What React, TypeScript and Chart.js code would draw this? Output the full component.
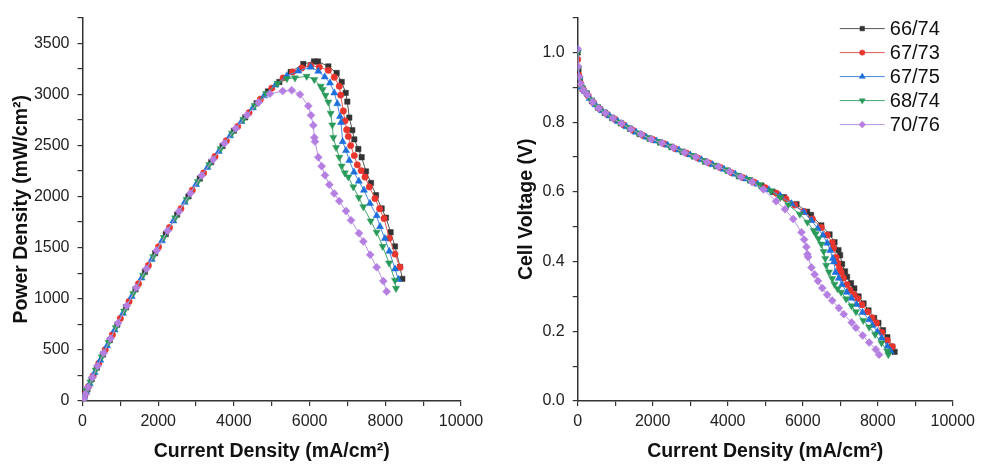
import React, { useEffect, useRef } from 'react';
import { Chart, registerables } from 'chart.js';
import { drawPoint } from 'chart.js/helpers';

Chart.register(...registerables);

// ---------- data ----------
const seriesNames = ['66/74', '67/73', '67/75', '68/74', '70/76'];

const current_66_74 = [0, 20, 60, 130, 240, 380, 540, 720, 920, 1150, 1400, 1650, 1920, 2200, 2500, 2800, 3100, 3400, 3700, 4000, 4300, 4600, 4900, 5200, 5500, 5834, 6116, 6222, 6495, 6715, 6848, 6953, 6997, 7049, 7128, 7181, 7287, 7375, 7490, 7622, 7754, 7904, 8018, 8140, 8256, 8388, 8450];
const voltage_66_74 = [1.00, 0.95, 0.92, 0.895, 0.882, 0.86, 0.842, 0.827, 0.812, 0.797, 0.781, 0.766, 0.753, 0.742, 0.729, 0.715, 0.702, 0.687, 0.674, 0.661, 0.645, 0.633, 0.618, 0.600, 0.585, 0.565, 0.543, 0.534, 0.504, 0.478, 0.456, 0.433, 0.418, 0.393, 0.372, 0.356, 0.338, 0.323, 0.300, 0.280, 0.260, 0.238, 0.224, 0.203, 0.183, 0.156, 0.141];
const power_66_74 = [0, 19, 55, 116, 212, 327, 455, 595, 747, 917, 1093, 1264, 1446, 1632, 1823, 2002, 2176, 2336, 2494, 2644, 2774, 2912, 3028, 3120, 3218, 3296, 3321, 3321, 3273, 3208, 3121, 3014, 2928, 2772, 2649, 2559, 2465, 2384, 2246, 2132, 2013, 1883, 1793, 1650, 1512, 1311, 1195];

const current_67_73 = [0, 30, 80, 160, 280, 430, 600, 790, 1000, 1230, 1480, 1740, 2010, 2300, 2600, 2900, 3200, 3500, 3800, 4100, 4400, 4700, 5000, 5300, 5550, 5791, 6030, 6257, 6495, 6653, 6785, 6820, 6891, 6935, 6980, 7023, 7086, 7180, 7261, 7364, 7464, 7578, 7728, 7850, 7966, 8106, 8256, 8388];
const voltage_67_73 = [0.98, 0.935, 0.91, 0.892, 0.876, 0.855, 0.837, 0.822, 0.808, 0.792, 0.776, 0.762, 0.750, 0.738, 0.724, 0.711, 0.697, 0.683, 0.670, 0.655, 0.641, 0.628, 0.612, 0.596, 0.580, 0.562, 0.544, 0.522, 0.498, 0.476, 0.454, 0.439, 0.412, 0.395, 0.380, 0.369, 0.353, 0.334, 0.318, 0.306, 0.294, 0.276, 0.256, 0.239, 0.224, 0.197, 0.174, 0.156];
const power_67_73 = [0, 28, 73, 143, 245, 368, 502, 649, 808, 974, 1148, 1326, 1508, 1697, 1882, 2062, 2230, 2391, 2546, 2686, 2820, 2952, 3060, 3159, 3219, 3257, 3280, 3266, 3234, 3166, 3079, 2992, 2837, 2740, 2653, 2588, 2498, 2400, 2310, 2253, 2191, 2094, 1980, 1880, 1786, 1593, 1437, 1308];

const current_67_75 = [0, 40, 100, 190, 320, 470, 650, 850, 1070, 1300, 1560, 1830, 2100, 2400, 2700, 3000, 3300, 3600, 3900, 4200, 4500, 4800, 5100, 5400, 5702, 6029, 6231, 6400, 6539, 6653, 6732, 6803, 6830, 6874, 6962, 7049, 7173, 7300, 7437, 7596, 7772, 7860, 7990, 8106, 8256, 8344];
const voltage_67_75 = [1.01, 0.93, 0.90, 0.888, 0.868, 0.850, 0.833, 0.818, 0.802, 0.787, 0.771, 0.757, 0.746, 0.734, 0.720, 0.706, 0.692, 0.678, 0.665, 0.651, 0.637, 0.622, 0.606, 0.589, 0.566, 0.542, 0.518, 0.495, 0.476, 0.453, 0.432, 0.409, 0.399, 0.369, 0.352, 0.334, 0.312, 0.295, 0.277, 0.254, 0.233, 0.217, 0.199, 0.181, 0.157, 0.143];
const power_67_75 = [0, 37, 90, 169, 278, 400, 541, 695, 858, 1023, 1203, 1385, 1567, 1762, 1944, 2118, 2284, 2441, 2594, 2734, 2867, 2986, 3091, 3181, 3227, 3266, 3225, 3170, 3111, 3014, 2908, 2782, 2724, 2537, 2450, 2352, 2239, 2150, 2062, 1932, 1813, 1706, 1590, 1464, 1292, 1190];

const current_68_74 = [0, 15, 50, 110, 210, 350, 510, 690, 880, 1100, 1340, 1600, 1870, 2150, 2450, 2750, 3050, 3350, 3650, 3950, 4250, 4550, 4850, 5150, 5400, 5614, 5923, 6125, 6293, 6346, 6420, 6495, 6557, 6600, 6627, 6700, 6785, 6847, 6930, 7023, 7155, 7300, 7419, 7614, 7772, 7931, 8100, 8256, 8283];
const voltage_68_74 = [1.00, 0.955, 0.925, 0.900, 0.885, 0.864, 0.845, 0.830, 0.815, 0.800, 0.785, 0.769, 0.755, 0.744, 0.731, 0.717, 0.704, 0.690, 0.676, 0.663, 0.648, 0.635, 0.620, 0.603, 0.584, 0.563, 0.536, 0.513, 0.489, 0.480, 0.466, 0.450, 0.429, 0.409, 0.389, 0.370, 0.351, 0.335, 0.322, 0.312, 0.293, 0.273, 0.256, 0.231, 0.212, 0.191, 0.167, 0.143, 0.133];
const power_68_74 = [0, 14, 46, 99, 186, 302, 431, 573, 717, 880, 1052, 1230, 1412, 1600, 1791, 1972, 2147, 2312, 2467, 2619, 2754, 2889, 3007, 3105, 3154, 3160, 3176, 3143, 3079, 3047, 2990, 2924, 2814, 2700, 2578, 2480, 2384, 2297, 2231, 2191, 2094, 1990, 1900, 1761, 1651, 1512, 1350, 1180, 1102];

const current_70_76 = [0, 10, 35, 75, 150, 260, 400, 560, 740, 940, 1170, 1420, 1690, 1960, 2250, 2550, 2850, 3150, 3450, 3750, 4050, 4350, 4650, 4950, 5289, 5527, 5746, 5966, 6037, 6098, 6125, 6143, 6231, 6319, 6407, 6522, 6650, 6785, 6962, 7094, 7305, 7419, 7600, 7772, 7948, 8036];
const voltage_70_76 = [1.01, 0.96, 0.93, 0.91, 0.892, 0.879, 0.858, 0.840, 0.826, 0.811, 0.796, 0.780, 0.765, 0.751, 0.740, 0.727, 0.713, 0.700, 0.685, 0.672, 0.658, 0.643, 0.628, 0.607, 0.573, 0.550, 0.522, 0.484, 0.463, 0.442, 0.421, 0.413, 0.383, 0.363, 0.344, 0.324, 0.305, 0.288, 0.267, 0.249, 0.225, 0.210, 0.188, 0.168, 0.148, 0.133];
const power_70_76 = [0, 10, 33, 68, 134, 229, 343, 470, 611, 762, 931, 1108, 1293, 1472, 1665, 1854, 2032, 2205, 2363, 2520, 2665, 2797, 2920, 3005, 3031, 3040, 2998, 2886, 2794, 2697, 2578, 2537, 2384, 2297, 2207, 2116, 2030, 1955, 1858, 1767, 1641, 1561, 1430, 1308, 1173, 1070];

const currents = [current_66_74, current_67_73, current_67_75, current_68_74, current_70_76];
const voltages = [voltage_66_74, voltage_67_73, voltage_67_75, voltage_68_74, voltage_70_76];
const powers = [power_66_74, power_67_73, power_67_75, power_68_74, power_70_76];

// ---------- style ----------
const FONT = '"Liberation Sans", Arial, Helvetica, sans-serif';
const styles = [
  { marker: '#333333', line: '#555555', pointStyle: 'rect', radius: 3.8, rotation: 0 },
  { marker: '#e8352e', line: '#e35a55', pointStyle: 'circle', radius: 3.2, rotation: 0 },
  { marker: '#1d6fdc', line: '#4a86e0', pointStyle: 'triangle', radius: 4.1, rotation: 0 },
  { marker: '#2a9a5a', line: '#46a472', pointStyle: 'triangle', radius: 4.1, rotation: 180 },
  { marker: '#b57fe2', line: '#b893e4', pointStyle: 'rectRot', radius: 4.0, rotation: 0 },
];

const legendPlugin = {
  id: 'lineLegend',
  afterDraw(chart: any) {
    const ctx = chart.ctx;
    const ca = chart.chartArea;
    const x1 = ca.right - 113;
    const x2 = ca.right - 68;
    const xm = (x1 + x2) / 2;
    ctx.save();
    seriesNames.forEach((name, i) => {
      const y = ca.top + 11 + i * 24;
      const st = styles[i];
      ctx.strokeStyle = st.line;
      ctx.lineWidth = 1;
      ctx.beginPath();
      ctx.moveTo(x1, y);
      ctx.lineTo(x2, y);
      ctx.stroke();
      ctx.fillStyle = st.marker;
      ctx.strokeStyle = st.marker;
      ctx.lineWidth = 0.5;
      drawPoint(ctx, { pointStyle: st.pointStyle, radius: st.radius * 0.85, rotation: st.rotation, borderWidth: 0.5 } as any, xm, y);
      ctx.fillStyle = '#111111';
      ctx.font = `20px ${FONT}`;
      ctx.textBaseline = 'middle';
      ctx.textAlign = 'left';
      ctx.fillText(name, x2 + 5, y + 1);
    });
    ctx.restore();
  },
};

function makeDatasets(kind: 'power' | 'voltage') {
  return seriesNames.map((name, i) => {
    const ys = kind === 'power' ? powers[i] : voltages[i];
    const st = styles[i];
    return {
      label: name,
      data: currents[i].map((x, j) => ({ x, y: ys[j] })),
      showLine: true,
      borderColor: st.line,
      borderWidth: 1,
      backgroundColor: st.marker,
      pointStyle: st.pointStyle,
      pointRadius: st.radius,
      pointRotation: st.rotation,
      pointBackgroundColor: st.marker,
      pointBorderColor: st.marker,
      pointBorderWidth: 0.5,
      tension: 0,
      fill: false,
      order: 4 - i,
    };
  });
}

function makeConfig(kind: 'power' | 'voltage'): any {
  const isPower = kind === 'power';
  const yWidth = isPower ? 82.5 : 87.7;
  const padRight = isPower ? 29 : 25.3;
  const yTitlePad = isPower ? 9.5 : 25;
  const tickFont = { family: FONT, size: 16 };
  const titleFont = { family: FONT, size: 19.5, weight: 'bold' as const };
  const gridOpts = {
    display: true,
    drawOnChartArea: false,
    drawTicks: true,
    tickLength: 5,
    color: '#333333',
    lineWidth: 1.2,
  };
  return {
    type: 'scatter',
    data: { datasets: makeDatasets(kind) },
    options: {
      responsive: false,
      animation: false,
      devicePixelRatio: 1,
      layout: { padding: { top: 14, right: padRight, left: 0, bottom: 0 } },
      plugins: { legend: { display: false }, tooltip: { enabled: false } },
      scales: {
        x: {
          type: 'linear',
          min: 0,
          max: 10000,
          afterFit: (s: any) => { s.height = 65; },
          ticks: {
            stepSize: 1000,
            autoSkip: false,
            maxRotation: 0,
            minRotation: 0,
            padding: 6,
            color: '#222222',
            font: tickFont,
            callback: (v: any) => (Number(v) % 2000 === 0 ? String(v) : ''),
          },
          grid: gridOpts,
          border: { display: true, color: '#333333', width: 1.5 },
          title: {
            display: true,
            text: 'Current Density (mA/cm²)',
            color: '#111111',
            font: titleFont,
            padding: { top: 0, bottom: 2.3 },
          },
        },
        y: {
          type: 'linear',
          min: 0,
          max: isPower ? 3750 : 1.1,
          afterFit: (s: any) => { s.width = yWidth; },
          ticks: {
            stepSize: isPower ? 250 : 0.1,
            autoSkip: false,
            padding: 8,
            color: '#222222',
            font: tickFont,
            callback: (v: any) => {
              const n = Number(v);
              if (isPower) return n % 500 === 0 ? String(n) : '';
              return Math.round(n * 10) % 2 === 0 ? n.toFixed(1) : '';
            },
          },
          grid: gridOpts,
          border: { display: true, color: '#333333', width: 1.5 },
          title: {
            display: true,
            text: isPower ? 'Power Density (mW/cm²)' : 'Cell Voltage (V)',
            color: '#111111',
            font: titleFont,
            padding: { top: yTitlePad, bottom: 0 },
          },
        },
      },
    },
    plugins: isPower ? [] : [legendPlugin],
  };
}

function Panel({ kind, left, width }: { kind: 'power' | 'voltage'; left: number; width: number }) {
  const ref = useRef<HTMLCanvasElement | null>(null);
  useEffect(() => {
    if (!ref.current) return;
    const chart = new Chart(ref.current, makeConfig(kind));
    return () => chart.destroy();
  }, [kind]);
  return (
    <div style={{ position: 'absolute', left, top: 0, width, height: 466 }}>
      <canvas ref={ref} width={width} height={466} style={{ display: 'block', width, height: 466 }} />
    </div>
  );
}

export default function App() {
  return (
    <div style={{ position: 'absolute', left: 0, top: 0, width: 981, height: 466, background: '#ffffff', overflow: 'hidden' }}>
      <Panel kind="power" left={0} width={490} />
      <Panel kind="voltage" left={490} width={491} />
    </div>
  );
}
